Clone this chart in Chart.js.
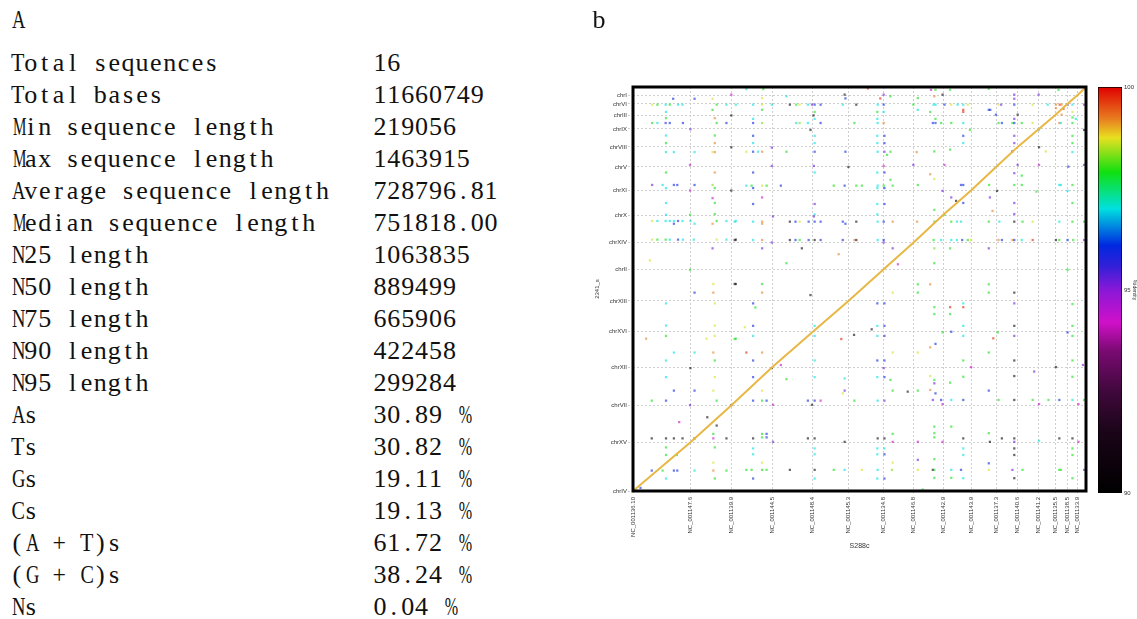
<!DOCTYPE html>
<html>
<head>
<meta charset="utf-8">
<script src="https://cdn.jsdelivr.net/npm/chart.js@4.4.1/dist/chart.umd.min.js"></script>
<style>
  html, body { margin: 0; padding: 0; background: #fff; }
  #page { position: relative; width: 1137px; height: 619px; overflow: hidden; }
  .txt { position: absolute; font-family: 'Liberation Serif', serif; font-size: 26px;
         line-height: 32px; color: #111; white-space: pre; }
  .ch { display: inline-block; width: 13.9px; text-align: center; white-space: pre; }
  canvas { position: absolute; top: 0; }
</style>
</head>
<body>
<div id="page">
  <canvas id="dotplot" width="500" height="619" style="left:590px"></canvas>
  <canvas id="cbar" width="47" height="619" style="left:1090px"></canvas>
</div>
<script>
// panel A: assembly statistics
const statNames = ['Total sequences', 'Total bases', 'Min sequence length', 'Max sequence length',
  'Average sequence length', 'Median sequence length', 'N25 length', 'N50 length', 'N75 length',
  'N90 length', 'N95 length', 'As', 'Ts', 'Gs', 'Cs', '(A + T)s', '(G + C)s', 'Ns'];
const statValues = ['16', '11660749', '219056', '1463915', '728796.81', '751818.00', '1063835',
  '889499', '665906', '422458', '299284', '30.89 %', '30.82 %', '19.11 %', '19.13 %',
  '61.72 %', '38.24 %', '0.04 %'];

// panel b: dot plot, lengths in Mb
const refNames = ['NC_001136.10', 'NC_001147.6', 'NC_001139.9', 'NC_001144.5', 'NC_001148.4',
  'NC_001145.3', 'NC_001134.8', 'NC_001146.8', 'NC_001142.9', 'NC_001143.9', 'NC_001137.3',
  'NC_001140.6', 'NC_001141.2', 'NC_001135.5', 'NC_001138.5', 'NC_001133.9'];
const refLens = [1.532, 1.091, 1.091, 1.078, 0.948, 0.924, 0.813, 0.784, 0.746, 0.667, 0.577,
  0.563, 0.440, 0.317, 0.270, 0.230];
const qryNames = ['chrIV', 'chrXV', 'chrVII', 'chrXII', 'chrXVI', 'chrXIII', 'chrII', 'chrXIV',
  'chrX', 'chrXI', 'chrV', 'chrVIII', 'chrIX', 'chrIII', 'chrVI', 'chrI'];
const qryLens = [1.41, 1.07, 1.10, 1.02, 0.89, 0.90, 0.79, 0.79, 0.71, 0.68, 0.58, 0.52, 0.40,
  0.32, 0.25, 0.24];

// off-diagonal hits: [ref Mb, query Mb, % identity]
const hits = [
  [1.07,11.33,96],[1.64,11.33,96],[2.12,11.33,98.7],[2.62,11.45,94.3],
  [0.51,11.16,98.7],[0.65,11.16,97.9],[0.87,11.16,97],[0.98,11.16,97.9],[1.20,11.16,97],[1.32,11.16,97],[2.23,11.16,97.9],[2.49,11.16,97],[2.74,11.16,97],
  [0.88,10.95,97],[2.12,11.01,97.9],[2.18,10.77,99.2],[0.88,10.77,97.9],[2.62,10.85,90.6],
  [0.51,10.63,97.9],[0.65,10.63,97],[0.87,10.63,96],[0.98,10.63,96],[1.33,10.63,96],[2.23,10.63,97.9],[2.49,10.63,96],
  [1.53,10.45,95.2],[0.88,10.27,97],[2.18,10.27,97.9],[0.88,10.05,97.9],[2.18,10.05,99.2],
  [0.88,9.79,97],[1.09,9.79,97],[1.64,9.79,97],[2.12,9.79,98.7],[2.18,9.79,99.2],[2.62,9.93,90.6],
  [1.52,9.42,94.3],[0.88,9.20,97.9],[2.18,9.20,99.2],
  [0.51,8.84,95.2],[0.79,8.84,97],[1.09,8.84,96],[1.18,8.84,96],[1.64,8.84,96],[2.12,8.84,98.3],
  [0.88,8.75,97],[2.18,8.75,97.9],[1.52,8.68,94.3],[2.62,8.68,90.6],[2.12,8.46,94.3],
  [0.88,8.32,97],[2.18,8.32,97.9],[0.88,7.98,97],[2.18,8.00,97.9],[1.52,7.98,97.9],
  [0.51,7.80,98.7],[0.65,7.80,97],[0.87,7.80,97],[0.98,7.80,97],[1.09,7.80,97],[1.20,7.80,96],[1.32,7.80,97],[1.53,7.80,97],[2.23,7.80,97.9],[2.49,7.80,97],[2.74,7.80,97],
  [1.09,7.72,96],[1.64,7.72,97],[2.12,7.72,99.2],
  [0.51,7.26,98.7],[0.65,7.26,97.9],[0.87,7.26,97.9],[0.98,7.26,97],[1.20,7.26,96],[1.33,7.26,97],[1.62,7.26,97],[2.23,7.26,98.7],[2.49,7.26,97],[2.74,7.26,90.6],
  [2.12,7.01,95.2],[0.45,6.66,98.7],[1.52,6.39,97.9],
  [2.14,5.98,98.7],[2.74,5.98,90.6],[1.64,5.73,96],[2.14,5.73,99.2],
  [0.88,5.42,97],[2.18,5.42,98.7],[0.88,4.78,97],[2.18,4.78,98.7],
  [0.35,4.40,99.2],[0.88,4.48,97.9],[1.96,4.40,98.7],[2.18,4.48,98.7],[2.74,4.40,97.9],
  [1.09,4.00,97],[1.64,4.00,97],[2.14,4.00,99.2],[0.88,3.77,97],[2.18,3.77,97.9],[1.53,3.55,91],
  [0.88,3.29,97],[2.18,3.29,98.7],[1.09,2.90,96],[1.64,2.90,96],[2.14,2.90,98.7],
  [0.50,2.61,97.9],[0.88,2.61,96],[2.23,2.61,97.9],[1.52,2.48,95.2],[2.62,2.48,90.6],
  [1.98,2.13,90.6],[1.23,1.99,94.3],[2.23,1.89,91],[2.14,1.65,97.9],
  [0.50,1.52,90.6],[0.88,1.52,90.6],[1.09,1.52,90.6],[1.32,1.52,90.6],[1.64,1.52,90.6],[2.14,1.52,94.3],[2.49,1.52,90.6],
  [0.88,1.26,97.9],[2.18,1.26,97.9],[0.88,1.04,97.9],[1.17,1.04,97.9],[2.14,0.82,98.7],
  [0.50,0.59,96],[0.79,0.59,97.9],[1.09,0.59,96],[1.18,0.59,96],[1.64,0.59,97],[2.14,0.59,99.2],[2.49,0.59,97.9],
  [0.88,0.36,97],[2.18,0.36,97.9],[0.20,0.09,96],
  [3.02,11.61,97],[3.47,11.61,97.9],[6.26,11.63,99.8],[6.68,11.45,95.2],[5.64,11.45,91],[4.09,11.40,97],[3.44,11.35,98.7],[5.66,11.34,96],[6.59,11.34,99.8],[6.86,11.40,97.9],
  [3.20,11.16,97],[3.44,11.16,98.7],[3.70,11.16,97],[4.18,11.16,90.6],[4.35,11.16,97.9],[4.44,11.16,98.7],[4.66,11.16,97],[4.77,11.16,95.2],[4.84,11.16,96],[5.00,11.16,96],[5.59,11.16,97],[5.95,11.16,90.6],[6.52,11.16,97],[6.68,11.16,96],
  [3.44,11.01,97.9],[4.84,10.95,97.9],[6.51,10.95,97.9],[6.68,10.95,97],[4.81,10.85,90.6],
  [3.20,10.75,97],[4.84,10.75,97],[6.51,10.75,97],
  [3.20,10.63,96],[3.44,10.63,98.3],[4.35,10.63,97],[4.44,10.63,98.3],[4.66,10.63,97],[5.00,10.63,96],[5.90,10.63,97.9],[6.52,10.63,97],[6.68,10.63,99.2],
  [4.73,10.43,91],[3.20,10.26,96],[4.84,10.26,97],[6.51,10.26,97],[6.70,10.26,96],
  [3.20,10.05,97],[4.84,10.05,97],[6.51,10.05,97],[6.70,10.05,96],[3.70,9.92,95.2],
  [3.02,9.80,98.7],[3.20,9.80,96],[3.33,9.80,97],[3.44,9.80,99.2],[4.09,9.80,97.9],[4.84,9.80,96],[5.66,9.80,96],[6.52,9.80,97],[6.70,9.80,95.2],[6.86,9.80,97.9],
  [6.77,9.71,97.9],[3.70,9.39,95.2],[4.82,9.39,95.2],[5.74,9.36,91],[6.68,9.39,94.3],
  [3.20,9.20,96],[4.84,9.20,97],[6.51,9.20,97],[6.70,9.20,96],[6.86,8.99,97.9],
  [3.02,8.82,97],[3.16,8.82,97.9],[3.44,8.82,98.7],[3.56,8.82,97.9],[3.94,8.82,96],[5.35,8.82,97.9],[5.64,8.82,96],[5.95,8.82,97.9],[6.10,8.82,97.9],[6.52,8.82,97],[6.68,8.82,97.9],[6.92,8.82,97.9],
  [3.20,8.75,96],[6.51,8.75,97],[6.70,8.75,96],[3.44,8.48,94.3],
  [3.20,8.29,96],[4.84,8.29,95.2],[6.51,8.29,97],[6.70,8.29,96],[4.84,7.99,97],[6.51,7.99,97],
  [3.73,7.93,95.2],[4.82,7.93,95.2],
  [2.71,7.78,97],[3.20,7.78,97],[3.44,7.78,99.2],[4.18,7.78,91],[4.33,7.78,96],[4.44,7.78,98.7],[4.68,7.78,96],[4.84,7.78,96],[5.00,7.78,96],[5.59,7.78,96],[5.95,7.78,91],[6.52,7.78,97],[6.68,7.78,96],[6.92,7.78,99.2],
  [5.66,7.72,96],[3.44,7.72,99.2],
  [2.71,7.25,91],[3.20,7.25,97],[3.44,7.25,99.2],[4.18,7.25,91],[4.33,7.25,96],[4.44,7.25,97.9],[4.68,7.25,96],[4.84,7.25,91],[5.00,7.25,96],[5.59,7.25,96],[5.90,7.25,99.2],[5.95,7.25,91],[6.52,7.25,97],[6.68,7.25,96],
  [3.70,7.18,95.2],[6.68,7.18,95.2],[3.44,7.01,95.2],[4.50,7.01,90.6],[6.92,7.01,95.2],
  [5.48,6.84,99.2],[7.06,6.55,94.3],[4.09,6.58,97.9],
  [2.71,5.98,90.6],[3.44,5.98,97.9],[3.44,5.73,99.2],[4.73,5.66,90.6],[6.92,5.73,98.7],
  [3.20,5.42,96],[3.26,5.30,97.9],[6.51,5.42,96],[6.70,5.42,96],
  [2.98,4.73,98.7],[3.20,4.77,96],[4.84,4.77,97],[6.51,4.77,97],[6.70,4.77,96],[6.36,4.67,91],[5.89,4.51,90.6],
  [2.71,4.39,97.9],[3.20,4.48,97],[4.84,4.48,97],[5.55,4.39,99.8],[6.51,4.48,97],[6.70,4.48,96],
  [3.02,4.00,99.8],[3.44,4.00,99.2],[6.92,4.00,98.7],
  [3.20,3.77,96],[4.84,3.77,97],[6.51,3.77,96],[6.70,3.77,96],[6.68,3.55,95.2],[3.70,3.55,90.6],[3.94,3.64,94.3],
  [3.20,3.29,96],[4.09,3.23,97.9],[4.84,3.29,97],[5.64,3.25,97],[6.51,3.29,97],[6.70,3.29,96],[6.86,3.21,97.9],
  [3.44,2.90,98.7],[5.64,2.90,95.2],[5.59,2.82,98.7],[6.92,2.90,97.9],
  [3.20,2.61,96],[3.44,2.61,97.9],[3.56,2.61,96],[4.66,2.61,96],[4.84,2.61,96],[5.00,2.61,94.3],[5.90,2.61,97.9],[6.52,2.61,97],[6.70,2.61,95.2],
  [3.73,2.49,94.3],[4.77,2.49,91],
  [3.44,1.65,97.9],[3.56,1.65,96],[3.44,1.55,97.9],[3.56,1.55,96],[6.92,1.65,97.9],
  [3.20,1.52,90.6],[4.66,1.52,90.6],[4.84,1.52,91],[5.64,1.42,90.6],[6.52,1.52,91],[6.70,1.52,90.6],[3.73,1.42,95.2],[6.92,1.42,94.3],
  [3.20,1.23,97],[4.84,1.23,97],[6.51,1.23,97],[6.70,1.23,97],
  [3.20,1.06,97],[4.84,1.06,97],[6.51,1.06,97],[6.70,1.06,96],[3.44,0.82,98.7],[6.92,0.82,98.7],
  [3.02,0.61,97.9],[3.16,0.61,97.9],[3.44,0.61,97.9],[3.56,0.61,97.9],[4.18,0.61,91],[4.84,0.61,91],[5.35,0.61,97.9],[5.64,0.61,97],[6.10,0.61,98.7],[6.52,0.61,97],[6.90,0.61,98.3],
  [3.20,0.36,96],[4.84,0.36,97],[6.51,0.36,97],[6.70,0.36,96],
  [7.57,7.78,99.2],[8.03,7.78,97.9],[8.48,7.78,97.9],[8.63,7.78,97],[8.74,7.78,97],[9.48,7.78,97.9],[9.76,7.78,97],[10.16,7.78,91],[10.38,7.78,97.9],[10.65,7.78,98.7],[11.36,7.78,97],[11.71,7.78,97.9],[12.02,7.78,97.9],
  [8.01,7.25,97.9],[8.21,7.25,97],[8.48,7.25,97],[8.63,7.25,97],[8.77,7.25,96],[8.92,7.25,97.9],[9.01,7.25,98.7],[9.74,7.25,99.2],[9.83,7.25,96],[10.11,7.25,99.2],[10.16,7.25,96],[10.36,7.25,97],[10.65,7.25,99.8],[11.27,7.25,91],[11.36,7.25,97.9],[11.58,7.25,96],[11.73,7.25,97.9],[12.02,7.25,95.2],
  [9.48,7.01,95.2],[8.03,7.01,98.3],[8.45,7.01,97.9],[8.03,6.58,97.9],[11.58,6.39,97.9],
  [7.59,5.97,97.9],[7.92,5.97,99.2],[9.48,5.97,97.9],[7.59,5.73,97.9],[9.48,5.73,97.9],[10.16,5.73,90.6],
  [10.16,5.42,95.2],[8.80,5.42,97],[8.80,5.31,99.8],[11.71,5.40,97.9],[8.03,5.31,97.9],[8.45,5.31,99.8],
  [8.03,5.11,97.9],[8.45,5.11,97.9],[8.80,4.77,97],[10.16,4.77,90.6],[11.71,4.77,97.9],
  [8.25,4.58,97.9],[8.48,4.60,96],[9.72,4.58,97.9],[11.58,4.58,96],
  [8.80,4.48,97],[10.16,4.48,95.2],[11.71,4.48,97.9],[9.60,4.41,99.8],[8.06,4.25,96],[7.92,4.15,99.2],
  [7.59,4.00,98.7],[9.48,4.00,97.9],[8.80,3.77,97.9],[10.16,3.77,90.6],[11.71,3.77,97.9],
  [9.01,3.58,94.3],[11.27,3.58,90.6],[11.99,3.64,95.2],[10.69,3.45,95.2],
  [7.92,3.32,98.7],[8.80,3.30,97.9],[10.16,3.32,90.6],[11.71,3.30,97.9],[8.03,3.21,97.9],[8.03,3.11,95.2],[8.45,3.13,97.9],
  [7.32,2.87,91],[7.59,2.90,97.9],[7.92,2.92,99.2],[9.48,2.90,96],[8.06,2.82,96],
  [7.99,2.63,95.2],[8.21,2.63,96],[8.48,2.63,97],[8.80,2.63,96],[9.74,2.63,97.9],[10.16,2.63,90.6],[10.65,2.63,97.9],[11.07,2.63,97.9],[11.36,2.63,96],[11.71,2.63,97],[12.02,2.63,97.9],
  [8.25,2.51,94.3],[10.82,2.51,94.3],[11.87,2.51,94.3],
  [8.03,1.86,97.9],[8.48,1.86,97.9],[8.03,1.67,97.9],[9.48,1.67,97.9],[8.03,1.55,97.9],
  [8.80,1.52,90.6],[9.83,1.52,90.6],[10.16,1.52,90.6],[11.36,1.52,90.6],[11.71,1.52,90.6],
  [7.59,1.42,94.3],[8.25,1.42,94.3],[9.51,1.42,90.6],[10.16,1.42,95.2],[10.82,1.45,97],[11.87,1.42,94.3],
  [8.80,1.23,97],[10.16,1.23,90.6],[11.71,1.23,97.9],[8.80,1.04,97],[10.16,1.04,90.6],[11.71,1.04,97.9],
  [7.59,0.90,95.2],[8.03,0.92,97.9],[9.48,0.80,96],
  [7.59,0.61,98.7],[7.99,0.61,90.6],[8.03,0.61,97.9],[8.48,0.61,97],[8.74,0.61,96],[9.48,0.61,98.7],[10.11,0.61,95.2],[10.38,0.61,97.9],[11.36,0.61,97.9],[11.40,0.61,97.9],[12.02,0.61,95.2],
  [8.03,0.38,97.9],[8.48,0.38,97.9],[8.80,0.37,97],[10.16,0.37,90.6],[11.71,0.37,97.9],[7.72,0.04,97.9],
  [7.94,11.59,94.3],[8.06,11.59,97.9],[8.45,11.59,97.9],[9.48,11.62,97.9],[10.16,11.45,95.2],[10.81,11.45,95.2],[11.34,11.59,97.9],[8.25,11.45,90.6],[8.03,11.40,99.2],
  [7.59,11.35,97.9],[10.16,11.33,95.2],
  [7.47,11.16,97.9],[8.01,11.16,97],[8.06,11.16,97],[8.30,11.16,96],[8.48,11.16,98.7],[8.65,11.16,97],[8.80,11.16,97],[8.92,11.16,98.7],[9.74,11.16,98.7],[9.81,11.16,95.2],[10.16,11.16,96],[10.65,11.16,98.7],[11.05,11.16,97],[11.27,11.16,99.2],[11.37,11.16,99.8],[11.42,11.16,99.2],[11.58,11.16,96],[11.71,11.16,97],[12.02,11.16,95.2],
  [7.59,11.01,97],[8.80,11.01,99.8],[9.48,11.01,96],[9.52,11.01,96],[11.27,11.06,99.2],[11.47,11.04,99.8],
  [7.92,10.95,97.9],[8.80,10.95,99.8],[9.67,10.87,96],[10.25,10.87,91],[11.42,10.87,99.2],[11.71,10.95,98.7],
  [8.06,10.75,97.9],[10.16,10.75,95.2],[11.71,10.79,97.9],[11.80,10.75,97],
  [7.99,10.63,96],[8.06,10.63,96],[8.21,10.63,97.9],[8.48,10.63,97.9],[8.80,10.63,97],[9.74,10.63,97.9],[9.83,10.63,96],[10.11,10.63,97.9],[10.16,10.63,96],[10.36,10.63,97.9],[10.65,10.63,98.7],[11.36,10.63,99.2],[11.40,10.63,97],[11.71,10.63,97.9],
  [12.02,10.43,91],[10.82,10.43,97],[8.98,10.43,97.9],
  [8.80,10.26,96],[10.16,10.26,95.2],[11.71,10.26,97.9],[8.80,10.05,97],[10.16,10.05,95.2],[11.71,10.05,97.9],
  [7.56,9.79,99.2],[8.03,9.81,97.9],[8.45,9.86,97.9],[10.11,9.81,90.6],[10.82,9.93,90.6],[11.00,9.81,98.7],[11.71,9.79,97],
  [7.47,9.42,95.2],[8.30,9.42,94.3],[10.25,9.42,95.2],[10.82,9.42,94.3],[11.60,9.37,96],[12.02,9.42,95.2],
  [7.92,9.15,99.2],[10.16,9.18,95.2],[10.36,9.11,97.9],[8.03,9.01,98.7],
  [7.59,8.84,97.9],[8.74,8.84,96],[8.80,8.84,96],[9.49,8.84,97.9],[10.16,8.84,97.9],[10.36,8.84,97.9],[11.36,8.84,97],[11.40,8.84,97],[11.71,8.84,97.9],
  [8.25,8.67,95.2],[9.70,8.67,91],[11.58,8.67,97],[10.75,8.65,97.9],
  [8.48,8.48,95.2],[9.51,8.48,95.2],[8.61,8.38,90.6],
  [8.80,8.32,96],[10.16,8.32,95.2],[11.71,8.32,97.9],[8.03,8.12,97.9],[9.58,8.09,99.2],
  [8.30,7.98,97.9],[10.16,8.00,95.2]
];

// colour scale for % identity (90 -> 100)
const idStops = [[90, [0, 0, 0]], [91.5, [26, 5, 24]], [92.5, [64, 8, 60]], [93.5, [122, 10, 114]],
  [94.2, [208, 16, 200]], [95, [138, 24, 216]], [95.6, [48, 32, 216]], [96.1, [0, 40, 224]],
  [97, [0, 224, 224]], [97.9, [16, 224, 16]], [98.75, [232, 224, 32]], [99.2, [232, 128, 32]],
  [100, [224, 0, 0]]];

function idColor(v, a) {
  for (let i = 1; i < idStops.length; i++) {
    if (v <= idStops[i][0]) {
      const [v0, c0] = idStops[i - 1], [v1, c1] = idStops[i];
      const t = (v - v0) / (v1 - v0);
      const c = c0.map((k, j) => Math.round(k + (c1[j] - k) * t));
      return `rgba(${c[0]},${c[1]},${c[2]},${a})`;
    }
  }
  return `rgba(224,0,0,${a})`;
}

// text in fixed-width cells, like the half-width font of the original
const page = document.getElementById('page');
const CELL = 13.9;
const meas = document.createElement('canvas').getContext('2d');
meas.font = '26px "Liberation Serif"';
function monoText(str, left, top) {
  const d = document.createElement('div');
  d.className = 'txt';
  d.style.left = left + 'px';
  d.style.top = top + 'px';
  for (const ch of str) {
    const s = document.createElement('span');
    s.className = 'ch';
    s.textContent = ch;
    const w = meas.measureText(ch).width;
    if (w > CELL - 0.5) s.style.transform = `scaleX(${((CELL - 0.5) / w).toFixed(3)})`;
    d.appendChild(s);
  }
  page.appendChild(d);
}
monoText('A', 10, 4);
monoText('b', 592, 4);
statNames.forEach((name, i) => {
  monoText(name, 10, 47 + 32 * i);
  monoText(statValues[i], 373, 47 + 32 * i);
});

function cumulative(lens) {
  const out = [0];
  lens.forEach(l => out.push(+(out[out.length - 1] + l).toFixed(3)));
  return out;
}
const refStarts = cumulative(refLens);
const qryStarts = cumulative(qryLens);
const refTotal = refStarts[refStarts.length - 1];
const qryTotal = qryStarts[qryStarts.length - 1];
const diagonal = refStarts.map((x, i) => ({ x: x, y: qryStarts[i] }));

const smallFont = { family: 'Liberation Sans', size: 6 };

const framePlugin = {
  id: 'frame',
  afterDatasetsDraw(chart) {
    const { ctx, chartArea: a } = chart;
    ctx.save();
    ctx.strokeStyle = '#000';
    ctx.lineWidth = 3;
    ctx.strokeRect(a.left, a.top, a.right - a.left, a.bottom - a.top);
    ctx.restore();
  }
};

new Chart(document.getElementById('dotplot'), {
  type: 'scatter',
  data: {
    datasets: [
      {
        type: 'line',
        data: diagonal,
        borderColor: '#e8b744',
        borderWidth: 2,
        pointRadius: 0,
        order: 0
      },
      {
        data: hits.map(h => ({ x: h[0], y: h[1] })),
        pointStyle: 'rect',
        pointRadius: 1.6,
        pointBorderWidth: 0,
        backgroundColor: hits.map(h => idColor(h[2], 0.6)),
        pointBackgroundColor: hits.map(h => idColor(h[2], 0.6)),
        order: 1
      }
    ]
  },
  options: {
    responsive: false,
    animation: false,
    layout: { padding: { top: 87, right: 3, bottom: 65, left: 0 } },
    plugins: { legend: { display: false }, tooltip: { enabled: false } },
    scales: {
      x: {
        type: 'linear', min: 0, max: refTotal,
        afterBuildTicks: s => { s.ticks = refStarts.slice(0, -1).map(v => ({ value: v })); },
        afterFit: s => { s.height = 63; },
        ticks: {
          autoSkip: false, minRotation: 90, maxRotation: 90, padding: 3,
          color: '#333', font: smallFont,
          callback: (v, i) => refNames[i]
        },
        grid: { color: '#cfcfcf', tickColor: '#cfcfcf', tickLength: 3, tickBorderDash: [2, 2] },
        border: { display: false, dash: [2, 2] },
        title: { display: true, text: 'S288c', color: '#333', font: { family: 'Liberation Sans', size: 7 } }
      },
      y: {
        type: 'linear', min: 0, max: qryTotal,
        afterBuildTicks: s => { s.ticks = qryStarts.slice(0, -1).map(v => ({ value: v })); },
        afterFit: s => { s.width = 43; },
        ticks: {
          autoSkip: false, padding: 1, color: '#333', font: smallFont,
          callback: (v, i) => qryNames[i]
        },
        grid: { color: '#cfcfcf', tickColor: '#cfcfcf', tickLength: 5, tickBorderDash: [2, 2] },
        border: { display: false, dash: [2, 2] },
        title: { display: true, text: '2341_s', color: '#333', font: { family: 'Liberation Sans', size: 6 } }
      }
    }
  },
  plugins: [framePlugin]
});

// colour bar
new Chart(document.getElementById('cbar'), {
  type: 'bar',
  data: {
    labels: [''],
    datasets: [{
      data: [[90, 100]],
      barPercentage: 1,
      categoryPercentage: 1,
      borderColor: '#000',
      borderWidth: 1,
      borderSkipped: false,
      backgroundColor: c => {
        const a = c.chart.chartArea;
        if (!a) return '#000';
        const g = c.chart.ctx.createLinearGradient(0, a.bottom, 0, a.top);
        idStops.forEach(s => g.addColorStop((s[0] - 90) / 10, idColor(s[0], 1)));
        return g;
      }
    }]
  },
  options: {
    responsive: false,
    animation: false,
    layout: { padding: { top: 87, right: 0, bottom: 126, left: 8 } },
    plugins: { legend: { display: false }, tooltip: { enabled: false } },
    scales: {
      x: { display: false },
      y: {
        position: 'right', min: 90, max: 100,
        afterFit: s => { s.width = 15; },
        ticks: { stepSize: 5, padding: 2, color: '#333', font: { family: 'Liberation Sans', size: 6 } },
        grid: { display: false, drawTicks: false },
        border: { display: false },
        title: { display: true, text: '%identity', padding: 0, color: '#333', font: { family: 'Liberation Sans', size: 5 } }
      }
    }
  }
});
</script>
</body>
</html>
